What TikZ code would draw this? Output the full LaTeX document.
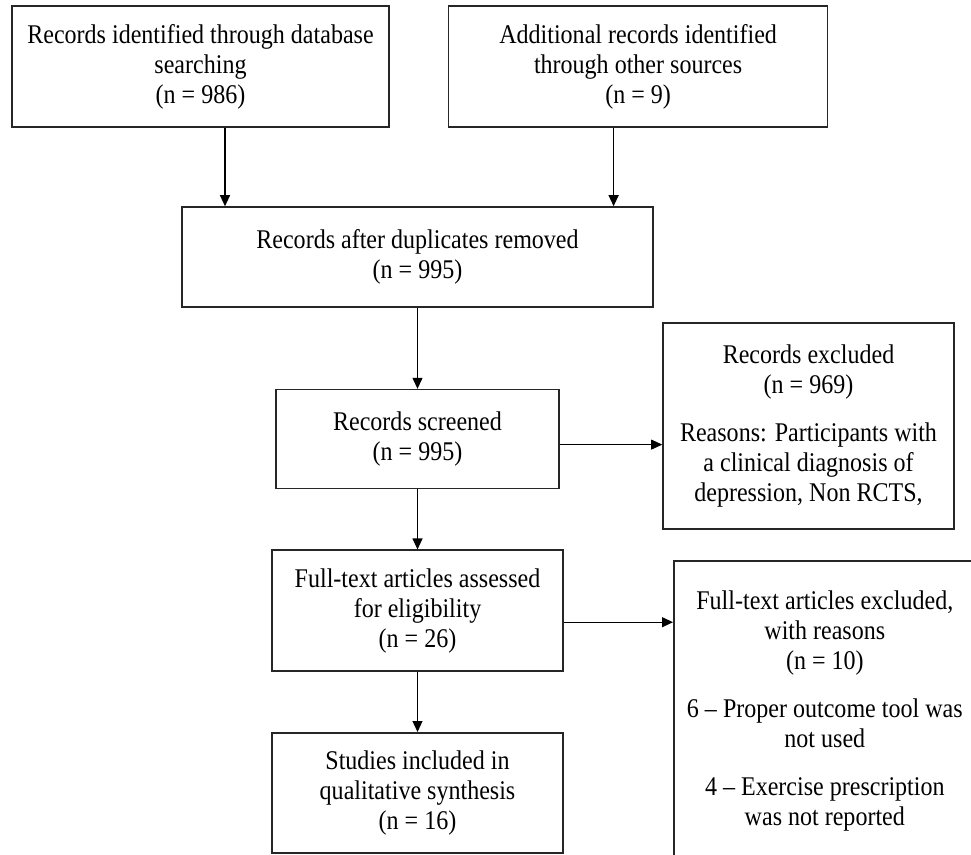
\documentclass[tikz,border=0pt]{standalone}
\usepackage{fontspec}
\setmainfont{Liberation Serif}[FakeStretch=0.89]
\usetikzlibrary{positioning, arrows.meta}

\begin{document}
\begin{tikzpicture}[x=1pt, y=-1pt, line width=1.2pt,
        font=\fontsize{27}{30}\selectfont,
        box/.style={draw=black!85, line width=1.6pt, align=center, inner sep=0pt},
        >={Triangle[length=11pt, width=10pt]}]
        \useasboundingbox (0,0) rectangle (971,854);
        \clip (0,0) rectangle (971,854);

        \node[box, minimum width=377pt, minimum height=121pt] (1) at (200.5,66.5) {Records identified through database\\searching\\(n = 986)};
        \node[box, minimum width=379pt, minimum height=121pt, right=58pt of 1] (2) {Additional records identified\\through other sources\\(n = 9)};
        \node[box, minimum width=471pt, minimum height=100pt] (3) at (417.5,257) {Records after duplicates removed\\(n = 995)};
        \node[box, minimum width=283pt, minimum height=99pt, below=81pt of 3] (4) {Records screened\\(n = 995)};
        \node[box, minimum width=291pt, minimum height=206pt] (5) at (808.5,426) {Records excluded\\(n = 969)\\[18pt]Reasons: Participants with\\a clinical diagnosis of\\depression, Non RCTS,};
        \node[box, minimum width=291pt, minimum height=121pt, below=60pt of 4] (6) {Full-text articles assessed\\for eligibility\\(n = 26)};
        \node[box, minimum width=302pt, minimum height=300pt, anchor=north west] (7) at (673,560) {Full-text articles excluded,\\with reasons\\(n = 10)\\[18pt]6 -- Proper outcome tool was\\not used\\[18pt]4 -- Exercise prescription\\was not reported};
        \node[box, minimum width=291pt, minimum height=120pt, below=60pt of 6] (8) {Studies included in\\qualitative synthesis\\(n = 16)};

        \draw[->] ([xshift=24.5pt]1.south) -- ([xshift=24.5pt]1.south |- 3.north);
        \draw[->] ([xshift=-24.5pt]2.south) -- ([xshift=-24.5pt]2.south |- 3.north);
        \draw[->] (3) -- (4);
        \draw[->] (4) -- (6);
        \draw[->] (6) -- (8);
        \draw[->, line width=0.8pt] ([yshift=-5.5pt]4.east) -- ([yshift=-5.5pt]4.east -| 5.west);
        \draw[->] ([yshift=-11.5pt]6.east) -- ([yshift=-11.5pt]6.east -| 7.west);
\end{tikzpicture}
\end{document}
